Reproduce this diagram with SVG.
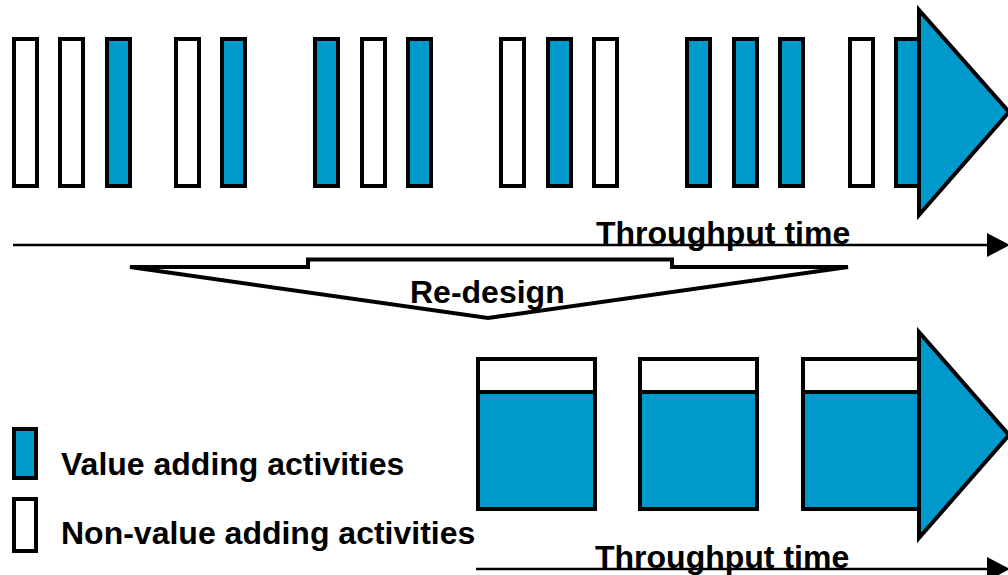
<svg xmlns="http://www.w3.org/2000/svg" width="1008" height="575" viewBox="0 0 1008 575">
<style>
.w{fill:#FFFFFF;stroke:#000;stroke-width:4}
.b{fill:#0099CC;stroke:#000;stroke-width:4}
.t{font-family:"Liberation Sans",Arial,sans-serif;font-weight:bold;font-size:32px;fill:#000}
.ln{stroke:#000;stroke-width:2.5;fill:none}
</style>
<rect width="1008" height="575" fill="#FFFFFF"/>
<g id="before">
<rect class="w" x="14" y="39" width="23" height="147"/>
<rect class="w" x="60" y="39" width="23" height="147"/>
<rect class="b" x="107" y="39" width="23" height="147"/>
<rect class="w" x="176" y="39" width="23" height="147"/>
<rect class="b" x="222" y="39" width="23" height="147"/>
<rect class="b" x="315" y="39" width="23" height="147"/>
<rect class="w" x="362" y="39" width="23" height="147"/>
<rect class="b" x="408" y="39" width="23" height="147"/>
<rect class="w" x="501" y="39" width="23" height="147"/>
<rect class="b" x="548" y="39" width="23" height="147"/>
<rect class="w" x="594" y="39" width="23" height="147"/>
<rect class="b" x="687" y="39" width="23" height="147"/>
<rect class="b" x="734" y="39" width="23" height="147"/>
<rect class="b" x="780" y="39" width="23" height="147"/>
<rect class="w" x="850" y="39" width="23" height="147"/>
<rect class="b" x="896" y="39" width="23" height="147"/>
<polygon class="b" points="919,10 919,215 1009,112"/>
</g>
<g id="redesign">
<polygon points="130,267 308,267 308,259.5 672,259.5 672,267 848,267 488,318" fill="#FFFFFF" stroke="#000" stroke-width="4"/>
<text class="t" x="410" y="303">Re-design</text>
</g>
<g id="after">
<rect class="b" x="478" y="359" width="117" height="150"/>
<rect class="w" x="478" y="359" width="117" height="33"/>
<rect class="b" x="640" y="359" width="117" height="150"/>
<rect class="w" x="640" y="359" width="117" height="33"/>
<rect class="b" x="803" y="359" width="117" height="150"/>
<rect class="w" x="803" y="359" width="117" height="33"/>
<polygon class="b" points="919,332 919,538 1009,435"/>
</g>
<g id="legend">
<rect class="b" x="14" y="429" width="22" height="49"/>
<text class="t" x="61" y="475">Value adding activities</text>
<rect class="w" x="14" y="499" width="22" height="52"/>
<text class="t" x="61" y="544">Non-value adding activities</text>
</g>
<g id="connectors">
<line class="ln" x1="13" y1="245" x2="990" y2="245"/>
<polygon points="987,233 1010,245 987,257" fill="#000"/>
<text class="t" x="596" y="244">Throughput time</text>
<line class="ln" x1="476" y1="569" x2="990" y2="569"/>
<polygon points="987,557 1010,569 987,581" fill="#000"/>
<text class="t" x="595" y="568">Throughput time</text>
</g>
</svg>
